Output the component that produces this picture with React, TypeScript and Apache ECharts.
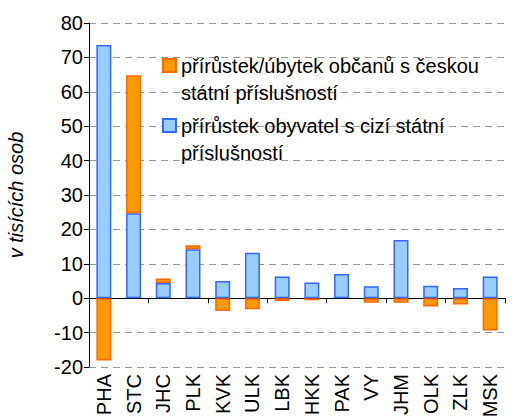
import React, { useEffect, useRef } from 'react';
import * as echarts from 'echarts';

const categories = ['PHA', 'STC', 'JHC', 'PLK', 'KVK', 'ULK', 'LBK', 'HKK', 'PAK', 'VY', 'JHM', 'OLK', 'ZLK', 'MSK'];
const foreignGrowth = [73.6, 24.7, 4.4, 14.2, 5.0, 13.2, 6.3, 4.6, 7.0, 3.5, 16.9, 3.6, 3.0, 6.3];
const czechChange = [-18.1, 40.1, 1.3, 1.2, -3.7, -3.2, -0.8, -0.6, null, -1.3, -1.3, -2.4, -1.8, -9.4];
const czechName = 'přírůstek/úbytek občanů s českou\nstátní příslušností';
const foreignName = 'přírůstek obyvatel s cizí státní\npříslušností';
const yAxisName = 'v tisících osob';
const yMin = -20;
const yMax = 80;
const yInterval = 10;

const FONT = '"Liberation Sans", Arial, sans-serif';

export default function App() {
  const ref = useRef<HTMLDivElement>(null);
  useEffect(() => {
    const chart = echarts.init(ref.current!, null, { renderer: 'svg' });
    chart.setOption({
      animation: false,
      backgroundColor: '#ffffff',
      textStyle: { fontFamily: FONT },
      grid: { left: 89, right: 7, top: 23, bottom: 51, containLabel: false, outerBoundsMode: 'none' },
      legend: {
        orient: 'vertical',
        left: 162,
        top: 25,
        padding: 0,
        icon: 'rect',
        itemWidth: 13,
        itemHeight: 13,
        itemGap: -21,
        selectedMode: false,
        data: [czechName, foreignName],
        formatter: (name: string) => '\n' + name,
        textStyle: { fontSize: 20, lineHeight: 27, color: '#000', fontFamily: FONT },
      },
      xAxis: [
        {
          type: 'category',
          data: categories,
          position: 'bottom',
          axisLine: { show: true, onZero: true, lineStyle: { color: '#000', width: 1 } },
          axisTick: { show: true, length: 5, lineStyle: { color: '#000' } },
          axisLabel: { show: false },
          splitLine: { show: false },
        },
        {
          type: 'category',
          data: categories,
          position: 'bottom',
          axisLine: { show: false, onZero: false },
          axisTick: { show: false },
          axisLabel: { show: true, rotate: 90, fontSize: 20, color: '#000', margin: 7, fontFamily: FONT },
          splitLine: { show: false },
        },
      ],
      yAxis: {
        type: 'value',
        min: yMin,
        max: yMax,
        interval: yInterval,
        name: yAxisName,
        nameLocation: 'middle',
        nameGap: 63,
        nameTextStyle: { fontStyle: 'italic', fontSize: 20, color: '#000', fontFamily: FONT },
        axisLine: { show: true, lineStyle: { color: '#000', width: 1 } },
        axisTick: { show: true, length: 5, lineStyle: { color: '#000' } },
        axisLabel: { fontSize: 20, color: '#000', margin: 6, fontFamily: FONT },
        splitLine: { show: true, lineStyle: { color: '#999', type: [7, 5], width: 1 } },
      },
      series: [
        {
          name: foreignName,
          type: 'bar',
          stack: 'total',
          xAxisIndex: 0,
          barWidth: 15,
          data: foreignGrowth,
          itemStyle: { color: '#99CCFF', borderColor: '#3366FF', borderWidth: 1.5 },
        },
        {
          name: czechName,
          type: 'bar',
          stack: 'total',
          xAxisIndex: 0,
          barWidth: 15,
          data: czechChange,
          itemStyle: { color: '#FF9900', borderColor: '#FF6600', borderWidth: 1.5 },
        },
      ],
    });
    return () => chart.dispose();
  }, []);
  return <div ref={ref} style={{ position: 'absolute', left: 0, top: 0, width: 512, height: 418 }} />;
}
